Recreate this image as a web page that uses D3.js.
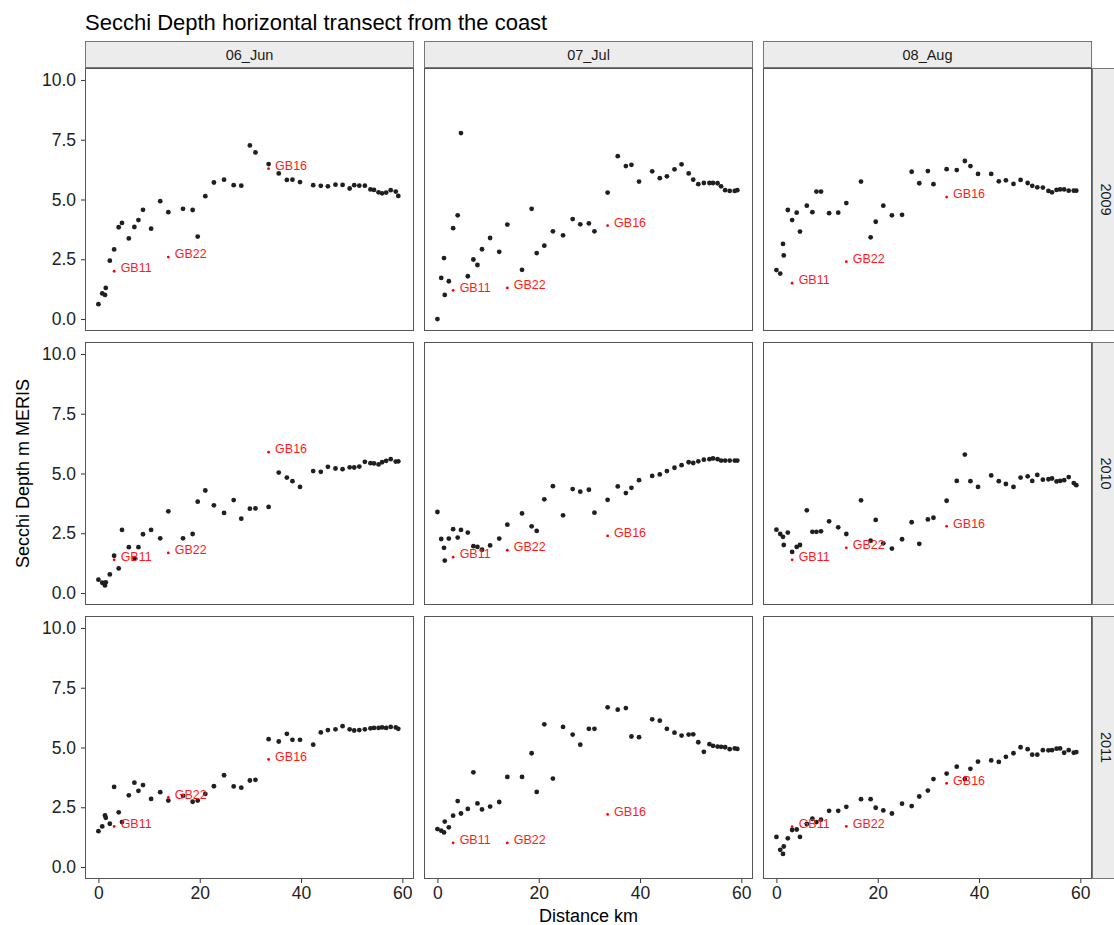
<!DOCTYPE html>
<html>
<head>
<meta charset="utf-8">
<script src="https://cdn.jsdelivr.net/npm/d3@7"></script>
<style>
  body { margin: 0; background: #fff; }
  svg { font-family: "Liberation Sans", Arial, sans-serif; }
</style>
</head>
<body>
<svg id="chart" width="1114" height="925"></svg>
<script>
// facets
const months = ['06_Jun', '07_Jul', '08_Aug'];
const years = ['2009', '2010', '2011'];

// distance of every transect pixel from the coast (km)
const distance = [0, 0.75, 1.3, 1.45, 2.25, 3.1, 4.0, 4.65, 6.0, 7.1, 7.9, 8.8, 10.4, 12.2, 13.8,
  16.7, 18.6, 19.6, 21.1, 22.8, 24.8, 26.7, 28.2, 29.9, 31.0, 33.6, 35.6, 37.2, 38.3, 39.8,
  42.4, 43.9, 45.3, 46.8, 48.2, 49.6, 50.5, 51.5, 52.6, 53.7, 54.4, 55.3, 56.0, 56.8, 57.7, 58.7, 59.2];

// Secchi depth (m) along the transect
const jun2009 = [0.62, 1.07, 1.01, 1.30, 2.44, 2.91, 3.84, 4.02, 3.37, 3.85, 4.14, 4.57, 3.78, 4.93, 4.47,
  4.61, 4.56, 3.45, 5.14, 5.71, 5.83, 5.60, 5.58, 7.26, 6.97, 6.48, 6.09, 5.82, 5.83, 5.73,
  5.60, 5.57, 5.55, 5.62, 5.61, 5.46, 5.60, 5.58, 5.58, 5.42, 5.40, 5.30, 5.26, 5.29, 5.39, 5.33, 5.15];
const jul2009 = [0.0, 1.72, 2.55, 1.01, 1.58, 3.80, 4.34, 7.78, 1.79, 2.49, 2.26, 2.92, 3.39, 2.81, 3.95,
  2.06, 4.61, 2.76, 3.07, 3.67, 3.50, 4.18, 3.96, 4.00, 3.67, 5.29, 6.81, 6.40, 6.45, 5.75,
  6.18, 5.89, 5.97, 6.26, 6.47, 6.09, 5.83, 5.64, 5.69, 5.69, 5.69, 5.68, 5.55, 5.39, 5.36, 5.36, 5.39];
const aug2009 = [2.05, 1.90, 3.14, 2.66, 4.56, 4.14, 4.45, 3.66, 4.74, 4.47, 5.33, 5.33, 4.43, 4.45, 4.85,
  5.75, 3.42, 4.07, 4.74, 4.34, 4.36, 6.16, 5.68, 6.19, 5.64, 6.27, 6.23, 6.61, 6.40, 6.07,
  6.07, 5.76, 5.80, 5.65, 5.82, 5.69, 5.57, 5.51, 5.50, 5.36, 5.30, 5.40, 5.42, 5.42, 5.37, 5.37, 5.37];
const jun2010 = [0.56, 0.43, 0.32, 0.45, 0.78, 1.56, 1.03, 2.64, 1.92, 1.46, 1.92, 2.46, 2.64, 2.29, 3.42,
  2.29, 2.47, 3.82, 4.29, 3.67, 3.35, 3.89, 3.11, 3.53, 3.54, 3.60, 5.04, 4.83, 4.68, 4.44,
  5.10, 5.07, 5.28, 5.21, 5.18, 5.26, 5.25, 5.29, 5.49, 5.43, 5.42, 5.38, 5.47, 5.53, 5.60, 5.50, 5.51];
const jul2010 = [3.39, 2.26, 1.89, 1.36, 2.28, 2.67, 2.32, 2.64, 2.53, 1.96, 1.93, 1.81, 1.99, 2.28, 2.86,
  3.33, 2.79, 2.60, 3.92, 4.47, 3.25, 4.35, 4.24, 4.32, 3.36, 3.90, 4.46, 4.18, 4.40, 4.72,
  4.90, 4.96, 5.10, 5.24, 5.35, 5.47, 5.44, 5.51, 5.58, 5.60, 5.63, 5.60, 5.54, 5.54, 5.54, 5.54, 5.54];
const aug2010 = [2.65, 2.47, 2.35, 2.01, 2.53, 1.72, 1.93, 2.01, 3.46, 2.56, 2.56, 2.58, 3.00, 2.75, 2.47,
  3.88, 2.19, 3.06, 2.08, 1.86, 2.25, 2.96, 2.06, 3.08, 3.15, 3.86, 4.69, 5.79, 4.68, 4.44,
  4.92, 4.68, 4.56, 4.44, 4.83, 4.88, 4.69, 4.94, 4.74, 4.76, 4.79, 4.67, 4.69, 4.72, 4.85, 4.60, 4.51];
const jun2011 = [1.50, 1.70, 2.16, 2.06, 1.81, 3.35, 2.29, 1.88, 3.00, 3.53, 3.19, 3.43, 2.85, 3.13, 2.78,
  2.98, 2.73, 2.78, 3.06, 3.38, 3.84, 3.37, 3.32, 3.62, 3.65, 5.35, 5.25, 5.57, 5.32, 5.32,
  5.12, 5.63, 5.73, 5.76, 5.89, 5.76, 5.71, 5.73, 5.76, 5.80, 5.82, 5.82, 5.84, 5.82, 5.86, 5.84, 5.78];
const jul2011 = [1.59, 1.52, 1.45, 1.90, 1.66, 2.15, 2.76, 2.24, 2.43, 3.96, 2.66, 2.41, 2.53, 2.72, 3.77,
  3.77, 4.76, 3.14, 5.97, 3.70, 5.86, 5.54, 5.12, 5.78, 5.78, 6.68, 6.58, 6.65, 5.46, 5.43,
  6.18, 6.12, 5.78, 5.62, 5.50, 5.54, 5.55, 5.22, 4.82, 5.14, 5.07, 5.04, 5.03, 5.01, 4.93, 4.96, 4.94];
const aug2011 = [1.26, 0.72, 0.55, 0.86, 1.20, 1.55, 1.57, 1.26, 1.80, 2.02, 1.88, 1.98, 2.35, 2.35, 2.52,
  2.84, 2.84, 2.48, 2.37, 2.24, 2.65, 2.55, 2.95, 3.20, 3.68, 3.91, 4.20, 3.68, 4.11, 4.41,
  4.46, 4.40, 4.61, 4.76, 5.01, 4.93, 4.70, 4.70, 4.89, 4.88, 4.89, 4.95, 4.96, 4.78, 4.89, 4.78, 4.81];

// in situ stations (panel order: 2009 Jun, Jul, Aug, 2010 ..., 2011 ...)
const stationNames = ['GB11', 'GB22', 'GB16'];
const stationDistance = [3.1, 13.8, 33.6];
const gb11Depth = [2.00, 1.20, 1.50, 1.39, 1.50, 1.39, 1.70, 1.01, 1.69];
const gb22Depth = [2.59, 1.30, 2.40, 1.68, 1.79, 1.89, 2.91, 1.01, 1.70];
const gb16Depth = [6.29, 3.91, 5.10, 5.89, 2.39, 2.79, 4.50, 2.20, 3.50];

const xTicks = [0, 20, 40, 60];
const yTicks = [0, 2.5, 5, 7.5, 10];

const depthByPanel = [jun2009, jul2009, aug2009, jun2010, jul2010, aug2010, jun2011, jul2011, aug2011];
const stationDepths = [gb11Depth, gb22Depth, gb16Depth];

// layout
const svg = d3.select('#chart');
const colX = [85, 424, 763], rowY = [68, 342, 616];
const pw = 329, ph = 263;

const x = d3.scaleLinear().domain([-2.65, 62.3]).range([0, pw]);
const y = d3.scaleLinear().domain([-0.5, 10.5]).range([ph, 0]);

svg.append('text')
  .attr('x', 85).attr('y', 30)
  .style('font-size', '22px').style('fill', '#000')
  .text('Secchi Depth horizontal transect from the coast');

// column strips
months.forEach((m, c) => {
  svg.append('rect')
    .attr('x', colX[c] + 0.5).attr('y', 41.5)
    .attr('width', pw - 1).attr('height', 26)
    .attr('fill', '#ececec').attr('stroke', '#777');
  svg.append('text')
    .attr('x', colX[c] + pw / 2).attr('y', 54.5)
    .attr('text-anchor', 'middle').attr('dominant-baseline', 'central')
    .style('font-size', '14.5px').style('fill', '#1a1a1a')
    .text(m);
});

// row strips
years.forEach((yr, r) => {
  svg.append('rect')
    .attr('x', 1092.5).attr('y', rowY[r] + 0.5)
    .attr('width', 30).attr('height', ph - 1)
    .attr('fill', '#ececec').attr('stroke', '#777');
  svg.append('text')
    .attr('transform', `translate(1105.5,${rowY[r] + ph / 2}) rotate(90)`)
    .attr('text-anchor', 'middle').attr('dominant-baseline', 'central')
    .style('font-size', '14.5px').style('fill', '#1a1a1a')
    .text(yr);
});

years.forEach((yr, r) => {
  months.forEach((m, c) => {
    const k = r * 3 + c;
    const g = svg.append('g').attr('transform', `translate(${colX[c]},${rowY[r]})`);

    g.append('rect')
      .attr('x', 0.5).attr('y', 0.5)
      .attr('width', pw - 1).attr('height', ph - 1)
      .attr('fill', '#fff').attr('stroke', '#555');

    // pixels along the transect
    g.selectAll('.pt')
      .data(distance.map((d, i) => ({ d, v: depthByPanel[k][i] })))
      .enter().append('circle')
      .attr('class', 'pt')
      .attr('cx', p => x(p.d)).attr('cy', p => y(p.v))
      .attr('r', 2.4).attr('fill', '#1f1f1f');

    // stations
    const st = stationNames.map((n, i) => ({ n, d: stationDistance[i], v: stationDepths[i][k] }));
    g.selectAll('.st')
      .data(st).enter().append('circle')
      .attr('class', 'st')
      .attr('cx', s => x(s.d)).attr('cy', s => y(s.v))
      .attr('r', 1.4).attr('fill', '#ff0000');
    g.selectAll('.stl')
      .data(st).enter().append('text')
      .attr('class', 'stl')
      .attr('x', s => x(s.d) + 6.5).attr('y', s => y(s.v) + 1.2)
      .style('font-size', '12.5px').style('fill', '#ff1a1a')
      .text(s => s.n);

    if (c === 0) {
      const ax = g.append('g')
        .call(d3.axisLeft(y).tickValues(yTicks).tickFormat(d3.format('.1f')).tickSize(4).tickPadding(5));
      ax.select('.domain').remove();
      ax.selectAll('line').attr('stroke', '#333');
      ax.selectAll('text').style('font-size', '17.5px').style('fill', '#222').style('font-family', null);
    }
    if (r === 2) {
      const ax = g.append('g')
        .attr('transform', `translate(0,${ph})`)
        .call(d3.axisBottom(x).tickValues(xTicks).tickFormat(d3.format('d')).tickSize(4).tickPadding(4));
      ax.select('.domain').remove();
      ax.selectAll('line').attr('stroke', '#333');
      ax.selectAll('text').style('font-size', '17.5px').style('fill', '#222').style('font-family', null);
    }
  });
});

svg.append('text')
  .attr('x', colX[1] + pw / 2).attr('y', 922)
  .attr('text-anchor', 'middle')
  .style('font-size', '18px').style('fill', '#000')
  .text('Distance km');

svg.append('text')
  .attr('transform', `translate(29,${(rowY[0] + rowY[2] + ph) / 2}) rotate(-90)`)
  .attr('text-anchor', 'middle')
  .style('font-size', '18px').style('fill', '#000')
  .text('Secchi Depth m MERIS');
</script>
</body>
</html>
